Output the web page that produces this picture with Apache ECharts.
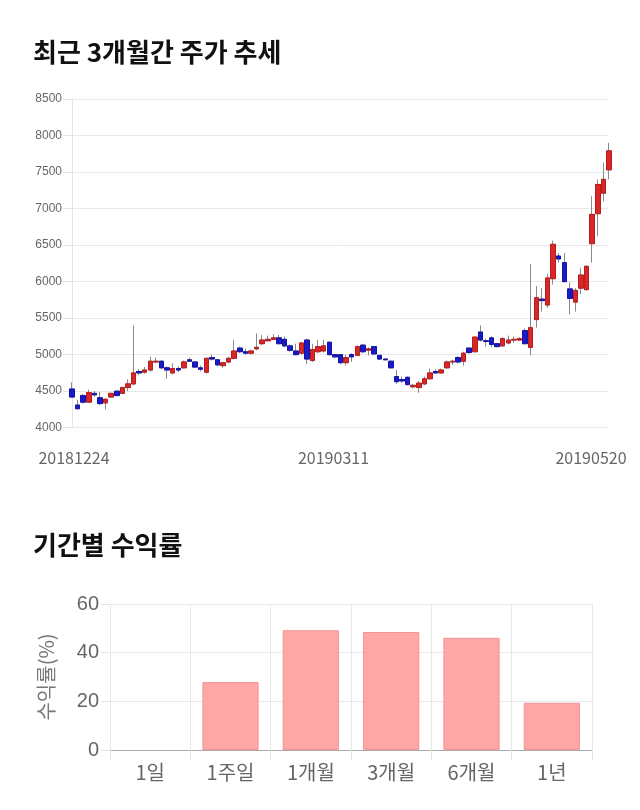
<!DOCTYPE html>
<html><head><meta charset="utf-8">
<script src="https://cdn.jsdelivr.net/npm/echarts@6/dist/echarts.min.js"></script>
<style>html,body{margin:0;padding:0;background:#fff}#c{width:640px;height:810px}</style>
</head><body><div id="c"></div><script>
const dates=['20181224','20181226','20181227','20181228',
'20190102','20190103','20190104','20190107','20190108','20190109','20190110','20190111','20190114','20190115','20190116','20190117','20190118','20190121','20190122','20190123','20190124','20190125','20190128','20190129','20190130','20190131',
'20190201','20190207','20190208','20190211','20190212','20190213','20190214','20190215','20190218','20190219','20190220','20190221','20190222','20190225','20190226','20190227','20190228',
'20190304','20190305','20190306','20190307','20190308','20190311','20190312','20190313','20190314','20190315','20190318','20190319','20190320','20190321','20190322','20190325','20190326','20190327','20190328','20190329',
'20190401','20190402','20190403','20190404','20190405','20190408','20190409','20190410','20190411','20190412','20190415','20190416','20190417','20190418','20190419','20190422','20190423','20190424','20190425','20190426','20190429','20190430',
'20190502','20190503','20190507','20190508','20190509','20190510','20190513','20190514','20190515','20190516','20190517','20190520'];
const openP=[4530,4310,4440,4350,4470,4410,4340,4420,4500,4470,4550,4600,4770,4760,4790,4900,4910,4820,4750,4810,4820,4930,4900,4820,4760,4960,4930,4850,4900,4950,5090,5040,5020,5080,5150,5190,5210,5230,5210,5120,5050,5020,5200,4920,5040,5050,5170,5000,5000,4890,5000,4990,5130,5060,5110,4990,4940,4910,4700,4660,4690,4560,4550,4600,4670,4770,4750,4820,4900,4960,4910,5090,5040,5310,5190,5230,5150,5120,5160,5200,5200,5330,5100,5480,5760,5680,6040,6350,6260,5900,5720,5910,5890,6520,6930,7210,7530];
const closeP=[4420,4260,4350,4480,4450,4330,4390,4470,4440,4550,4600,4750,4750,4790,4910,4910,4820,4790,4810,4790,4900,4910,4830,4800,4950,4940,4860,4890,4950,5050,5040,5020,5050,5100,5200,5210,5230,5150,5120,5060,5000,5160,4940,5070,5110,5120,5000,4970,4890,4960,4970,5110,5040,5080,5010,4940,4930,4820,4630,4640,4590,4580,4610,4670,4750,4750,4790,4900,4910,4900,5020,5030,5240,5200,5180,5140,5110,5220,5200,5210,5220,5150,5370,5780,5740,6050,6510,6310,6000,5770,5880,6090,6210,6920,7330,7400,7790];
const lowP=[4410,4250,4330,4340,4420,4310,4250,4410,4430,4460,4500,4580,4720,4740,4770,4880,4800,4670,4730,4760,4810,4900,4820,4770,4740,4920,4840,4820,4880,4940,5020,5000,5000,5060,5130,5180,5200,5140,5100,5040,4990,5000,4870,4900,5020,5030,4990,4950,4870,4850,4900,4980,5020,4990,5000,4930,4920,4810,4600,4610,4580,4540,4480,4580,4660,4740,4740,4810,4860,4880,4850,5010,5030,5180,5110,5100,5100,5110,5140,5160,5190,5140,4990,5370,5590,5640,5960,6260,5990,5550,5590,5830,5880,6260,6620,7100,7400];
const highP=[4620,4380,4460,4520,4500,4490,4400,4480,4510,4560,4660,5400,4800,4830,4970,4960,4920,4840,4880,4840,4920,4960,4910,4850,4960,5000,4940,4900,4970,5200,5110,5080,5070,5290,5270,5260,5280,5270,5250,5140,5150,5170,5220,5150,5200,5200,5180,5010,5010,5000,5020,5130,5150,5100,5120,5000,4950,4920,4790,4700,4700,4600,4640,4700,4810,4800,4810,4920,4930,4980,5040,5100,5250,5400,5220,5250,5160,5240,5260,5250,5240,5360,6240,5940,5910,6110,6560,6390,6390,5990,5910,6190,6220,7170,7400,7630,7900];
const priceMin=4000, priceMax=8500, priceStep=500;
const labelDates=['20181224','20190311','20190520'];
const periodLabels=['1일','1주일','1개월','3개월','6개월','1년'];
const periodReturns=[0,27.9,49.2,48.5,46.1,19.4];

const wickData=dates.map((d,i)=>[openP[i],closeP[i],lowP[i],highP[i]]);
const bodyData=dates.map((d,i)=>[openP[i],closeP[i],Math.min(openP[i],closeP[i]),Math.max(openP[i],closeP[i])]);
const barData=periodReturns.map(v=>v===0?{value:v,itemStyle:{borderWidth:0,color:'transparent'}}:v);
const lastIdx=dates.length-1;
const F='Noto Sans CJK KR';

const chart=echarts.init(document.getElementById('c'),null,{renderer:'canvas'});
chart.setOption({
  animation:false,
  backgroundColor:'#fff',
  title:[
    {text:'최근 3개월간 주가 추세',left:28,top:34,textStyle:{fontFamily:F,fontSize:26,fontWeight:'bold',color:'#111'}},
    {text:'기간별 수익률',left:28,top:527,textStyle:{fontFamily:F,fontSize:26,fontWeight:'bold',color:'#111'}}
  ],
  grid:[
    {left:72,right:31,top:99,height:328.7},
    {left:110,right:48,top:604,height:146}
  ],
  xAxis:[
    {type:'category',gridIndex:0,data:dates,boundaryGap:false,
     axisLine:{show:false},axisTick:{show:false},splitLine:{show:false},
     axisLabel:{interval:(i,v)=>labelDates.indexOf(v)>=0,margin:22,fontSize:16,color:'#666',fontFamily:F,
       formatter:(v,i)=> i===0?'{a|'+v+'}':(i===lastIdx?'{c|'+v+'}':'{b|'+v+'}'),
       rich:{a:{padding:[0,0,0,4],fontSize:16,color:'#666',fontFamily:F},
             b:{padding:[0,14,0,0],fontSize:16,color:'#666',fontFamily:F},
             c:{padding:[0,36,0,0],fontSize:16,color:'#666',fontFamily:F}}}},
    {type:'category',gridIndex:1,data:periodLabels,
     axisLine:{lineStyle:{color:'#aaa'}},
     axisTick:{show:true,length:10,lineStyle:{color:'#e2e2e2'}},
     splitLine:{show:true,lineStyle:{color:'#e8e8e8'}},
     axisLabel:{fontSize:20,color:'#666',margin:12,fontFamily:F}}
  ],
  yAxis:[
    {type:'value',gridIndex:0,min:priceMin,max:priceMax,interval:priceStep,
     axisLine:{show:true,lineStyle:{color:'#e4e4e4'}},
     axisTick:{show:true,length:9,lineStyle:{color:'#e4e4e4'}},
     splitLine:{lineStyle:{color:'#e8e8e8'}},
     axisLabel:{fontSize:12,color:'#666',margin:10,fontFamily:'Liberation Sans',formatter:v=>String(v)}},
    {type:'value',gridIndex:1,min:0,max:60,interval:20,
     name:'수익률(%)',nameLocation:'middle',nameGap:54,
     nameTextStyle:{fontSize:20,color:'#777',fontFamily:F},
     axisLine:{show:false},
     axisTick:{show:true,length:9,lineStyle:{color:'#e2e2e2'}},
     splitLine:{lineStyle:{color:'#e8e8e8'}},
     axisLabel:{fontSize:20,color:'#666',margin:11,fontFamily:'Liberation Sans',formatter:v=>String(v)}}
  ],
  series:[
    {type:'candlestick',xAxisIndex:0,yAxisIndex:0,data:wickData,barWidth:5,clip:false,silent:true,
     itemStyle:{color:'transparent',color0:'transparent',borderColor:'#8a8a8a',borderColor0:'#8a8a8a',borderWidth:1}},
    {type:'candlestick',xAxisIndex:0,yAxisIndex:0,data:bodyData,barWidth:5,clip:false,silent:true,
     itemStyle:{color:'#d92626',color0:'#1a1ac8',borderColor:'#b81d1d',borderColor0:'#1212a8',borderWidth:1}},
    {type:'bar',xAxisIndex:1,yAxisIndex:1,data:barData,barWidth:'70%',silent:true,
     itemStyle:{color:'#ffa6a6',borderColor:'#f29494',borderWidth:1}}
  ]
});
</script></body></html>
